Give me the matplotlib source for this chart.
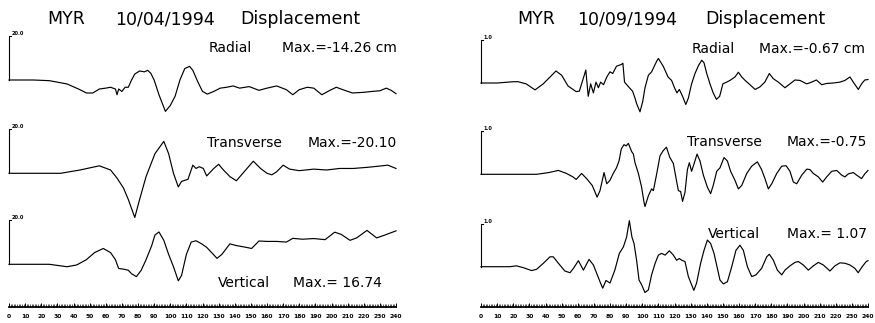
import numpy as np
import matplotlib
matplotlib.use("Agg")
import matplotlib.pyplot as plt
from matplotlib.ticker import MultipleLocator

plt.rcParams['font.family'] = ['DejaVu Sans']

# ---------------- data (time in s, displacement in cm) ----------------
LR_t = [0, 15, 25, 36, 44, 48, 52, 56, 60, 63, 66, 67, 68, 70, 72, 74, 76, 78, 81, 84,
        86, 88, 90, 93, 95, 97, 100, 103, 106, 109, 112, 114, 117, 120, 123, 127, 131, 135, 139, 143,
        149, 155, 160, 166, 172, 176, 180, 185, 189, 194, 199, 203, 207, 213, 220, 225, 230, 234, 237, 240]
LR_v = [0, 0, -0.3, -1.8, -4.4, -5.9, -5.9, -4.1, -3.7, -3.3, -4.1, -6.7, -4.1, -5.2, -3.3, -3.3, 0, 2.7, 4.1, 3.7,
        4.4, 3.0, 0, -6.7, -10.5, -14.26, -11.6, -7.4, 0, 5.2, 6.2, 4.4, -0.7, -5.2, -6.4, -5.2, -3.7, -3.3, -2.7, -3.7,
        -3.0, -4.7, -3.7, -2.7, -4.4, -6.7, -4.4, -3.3, -3.7, -6.7, -4.7, -3.3, -4.4, -5.9, -5.6, -5.2, -4.9, -3.7, -4.7, -6.2]

LT_t = [0, 32, 44, 56, 63, 67, 71, 74, 78, 81, 85, 90.5, 96, 99, 102, 105, 107, 111, 114, 116,
        118, 120.5, 122.6, 127, 130, 133, 137, 141, 145, 151.5, 156, 160, 163, 166, 170, 174, 180, 189, 197, 205,
        213.5, 222, 230, 235, 240]
LT_v = [0, 0, 1.5, 3.4, 1.5, -2.2, -6.7, -11.9, -20.1, -11.9, -1.5, 8.9, 14.5, 8.9, 0, -6.2, -3.7, -2.7, 3.7, 2.2,
        3.0, 2.2, -1.2, 2.2, 4.1, 1.5, -1.5, -3.4, 0, 5.5, 2.2, 0, -0.7, 0.7, 3.7, 1.9, 1.2, 1.9, 1.5, 2.2,
        2.2, 2.7, 3.3, 3.7, 2.2]

LV_t = [0, 25, 36, 42, 48, 53, 58.5, 63, 66, 68, 71, 74, 76, 79, 82, 85, 88.5, 90.5, 93, 96,
        99, 102, 105, 107, 110, 113, 116, 119.5, 122.6, 125.7, 129, 132, 137, 141, 145, 150.5, 155, 160, 166, 172,
        176, 182, 189, 196, 202, 206, 211.5, 215.6, 222, 228, 232, 240]
LV_v = [0, 0, -1.1, -0.3, 2.1, 5.3, 7.2, 5.3, 2.1, -1.9, -2.2, -2.7, -4.3, -5.6, -2.7, 2.1, 8.5, 13.3, 14.7, 10.9,
        4.5, -1.1, -7.5, -5.1, 4.5, 10.1, 10.7, 9.3, 7.7, 5.3, 2.7, 4.5, 9.3, 8.5, 8.0, 7.2, 10.6, 10.4, 10.4, 10.1,
        11.8, 11.4, 11.7, 11.2, 14.6, 13.6, 10.9, 12.0, 15.4, 12.0, 13.0, 15.2]

RR_t = [0, 10, 20, 23, 28, 33.5, 38.6, 46.5, 50, 54, 59, 61, 65, 66.5, 68, 69.7, 71.3, 72.8, 74.2, 76,
        78, 80, 81.7, 84, 87, 88, 89, 92, 94, 95.5, 96.5, 98.6, 100.3, 101.7, 103.8, 105.8, 109, 110, 113, 116,
        118.2, 120, 121.5, 123, 125, 127, 128.6, 130.6, 132.7, 134.8, 136.9, 138.3, 140, 142, 144, 146, 148, 150, 152.3, 154.4,
        157.5, 159.6, 161.7, 163.8, 166.8, 170, 173, 176, 178.8, 181.3, 184.4, 188.5, 191.6, 194.7, 197.8, 202, 205, 208, 211.3, 214.4,
        218.5, 222.6, 225.7, 228.8, 230.9, 234, 236, 238, 240]
RR_v = [0, 0, 0.03, 0.03, -0.02, -0.16, -0.02, 0.28, 0.18, -0.07, -0.20, -0.19, 0.30, -0.31, -0.02, -0.23, 0.02, -0.11, 0.02, -0.04,
        0.14, 0.26, 0.22, 0.39, 0.43, 0.46, 0.02, -0.11, -0.19, -0.35, -0.48, -0.67, -0.43, -0.11, 0.18, 0.26, 0.51, 0.57, 0.39, 0.14,
        0.06, -0.11, -0.23, -0.15, -0.31, -0.50, -0.35, -0.02, 0.22, 0.40, 0.53, 0.47, 0.22, -0.02, -0.23, -0.38, -0.31, -0.02, 0.02, 0.06,
        0.14, 0.25, 0.14, 0.06, -0.04, -0.15, -0.09, 0.02, 0.22, 0.10, 0.02, -0.11, -0.02, 0.07, 0.06, -0.02, 0.02, 0.07, -0.04, -0.01,
        0, 0.02, 0.06, 0.14, 0.02, -0.15, -0.02, 0.07, 0.08]

RT_t = [0, 20, 34.5, 42, 48, 53, 57, 59, 62.4, 65.5, 69, 72, 73.8, 76.3, 78, 80, 82, 84, 85.6, 87,
        88.7, 90, 91.4, 93.4, 94.5, 95.5, 97.6, 99.6, 101, 101.7, 103.8, 105.8, 106.9, 109, 111, 113, 115, 117, 119.3, 121,
        122.4, 123.8, 125, 126.5, 128, 129.2, 130.6, 132, 134, 135.8, 137.9, 140.4, 142.4, 144, 146.2, 148.2, 150.7, 152.8, 154.8, 157.5,
        159.6, 161.7, 164.8, 167.9, 171.4, 174, 176.1, 178.2, 180.3, 183.4, 186.5, 189.2, 191.6, 193.7, 195.8, 198.9, 202, 204, 206.1, 209.2,
        211.9, 214.4, 217.5, 220.6, 223.7, 225.7, 227.8, 230.9, 233, 236, 238, 240]
RT_v = [0, 0, 0, 0.04, 0.09, 0.02, -0.06, -0.12, 0.02, -0.10, -0.26, -0.53, -0.38, 0.04, -0.22, -0.14, 0.02, 0.15, 0.31, 0.59,
        0.69, 0.66, 0.72, 0.53, 0.47, 0.27, 0.02, -0.30, -0.63, -0.75, -0.50, -0.34, -0.38, 0.02, 0.43, 0.55, 0.63, 0.40, 0.25, -0.10,
        -0.38, -0.40, -0.63, -0.42, 0.11, 0.27, 0.07, 0.23, 0.47, 0.31, -0.02, -0.30, -0.45, -0.26, 0.07, 0.15, 0.39, 0.31, 0.07, -0.14,
        -0.34, -0.26, 0.02, 0.19, 0.29, 0.11, -0.10, -0.34, -0.22, 0.02, 0.19, 0.20, 0.07, -0.18, -0.22, -0.02, 0.12, 0.11, 0.02, -0.06,
        -0.18, -0.06, 0.07, 0.09, -0.02, -0.06, 0.01, 0.04, -0.02, -0.10, 0.01, 0.09]

RV_t = [0, 18, 22, 26, 31.4, 34.5, 38.7, 42.8, 44.8, 48, 52, 55.2, 57.3, 60.4, 63.5, 67, 69.7, 71.7, 73.8, 75.5,
        77.5, 80, 83, 85.8, 88.3, 90.3, 92, 93.6, 94.9, 96.5, 98, 99.6, 101.7, 103.8, 105.8, 108, 110, 112, 114.2, 116.8,
        119.3, 121.3, 123, 124.5, 126.5, 128.6, 130.6, 132, 133.7, 136.2, 138.3, 140.4, 142.4, 144.5, 146.6, 148.2, 150.3, 152.8, 155.5, 158.1,
        160.6, 162.7, 165.2, 167.9, 170.5, 174, 177.2, 178.8, 181.3, 183.8, 186.5, 188.5, 191.6, 194.7, 196.8, 199.9, 203, 206.1, 209.2, 212.3,
        216.4, 219.5, 222.6, 225.7, 228.8, 231.9, 233.9, 236.4, 238.9, 240]
RV_v = [0, 0, 0.02, -0.02, -0.09, -0.06, 0.08, 0.23, 0.23, 0.08, -0.10, -0.14, -0.04, 0.14, -0.08, 0.17, 0.04, -0.15, -0.35, -0.50,
        -0.32, -0.38, -0.08, 0.31, 0.46, 0.69, 1.07, 0.69, 0.54, 0.15, -0.31, -0.42, -0.60, -0.54, -0.19, 0.08, 0.27, 0.31, 0.27, 0.37,
        0.27, 0.15, 0.19, 0.15, 0.12, -0.23, -0.42, -0.55, -0.38, 0.08, 0.38, 0.62, 0.54, 0.31, -0.04, -0.31, -0.40, -0.35, 0, 0.38,
        0.50, 0.38, 0, -0.23, -0.19, -0.04, 0.23, 0.29, 0.15, -0.08, -0.19, -0.08, 0.02, 0.10, 0.12, 0.04, -0.08, 0.02, 0.10, 0.04,
        -0.10, 0.02, 0.09, 0.08, 0.04, -0.04, -0.14, 0, 0.12, 0.14]

titles = [["MYR", "10/04/1994", "Displacement"], ["MYR", "10/09/1994", "Displacement"]]
components = ["Radial", "Transverse", "Vertical"]
max_labels = [["Max.=-14.26 cm", "Max.=-20.10", "Max.= 16.74"],
              ["Max.=-0.67 cm", "Max.=-0.75", "Max.= 1.07"]]
scale_values = [20.0, 1.0]
tick_values = list(range(0, 241, 10))

# ---------------- layout ----------------
W, H = 875, 323
fig = plt.figure(figsize=(W / 100, H / 100), dpi=100)

def fx(px):
    return px / W

def fy(py):
    return 1 - py / H

ax_bottom_px, ax_top_px = 307, 30
panels = [
    dict(left=9, right=396, pxcm=2.2, bases=[80, 173.3, 264.3],
         traces=[(LR_t, LR_v), (LT_t, LT_v), (LV_t, LV_v)],
         title_x=[47, 115, 240],
         comp_x=[209, 207, 218], comp_base=[52, 147, 287],
         max_right=[397, 397, 382]),
    dict(left=481, right=868, pxcm=43.0, bases=[83, 174.3, 266.7],
         traces=[(RR_t, RR_v), (RT_t, RT_v), (RV_t, RV_v)],
         title_x=[517, 577, 705],
         comp_x=[692, 687, 708], comp_base=[53, 146.5, 238],
         max_right=[865, 867, 867]),
]

for p, panel in enumerate(panels):
    ax = fig.add_axes([fx(panel['left']), fy(ax_bottom_px),
                       fx(panel['right'] - panel['left']),
                       (ax_bottom_px - ax_top_px) / H])
    height_cm = (ax_bottom_px - ax_top_px) / panel['pxcm']
    ax.set_xlim(0, 240)
    ax.set_ylim(0, height_cm)
    for s in ['left', 'top', 'right']:
        ax.spines[s].set_visible(False)
    ax.spines['bottom'].set_linewidth(1.3)
    ax.set_yticks([])
    ax.set_xticks(tick_values)
    ax.xaxis.set_minor_locator(MultipleLocator(1))
    ax.tick_params(axis='x', which='major', direction='in', length=3.2, width=0.7,
                   labelsize=4.3, pad=5)
    ax.tick_params(axis='x', which='minor', direction='in', length=2.0, width=0.45)
    for lab in ax.get_xticklabels():
        lab.set_fontweight('bold')
    ax.patch.set_visible(False)

    sv = scale_values[p]
    for k, (t, v) in enumerate(panel['traces']):
        base = (ax_bottom_px - panel['bases'][k]) / panel['pxcm']
        y = base + np.asarray(v, dtype=float)
        ax.plot(t, y, color='black', lw=0.85, solid_joinstyle='round', clip_on=False)
        # scale bar
        ax.plot([0, 0, 1.2], [base, base + sv, base + sv], color='black', lw=0.8, clip_on=False)
        ax.text(1.6, base + sv, f"{sv:.1f}", fontsize=3.6, fontweight='bold',
                ha='left', va='bottom')

    # titles
    for word, xpx in zip(titles[p], panel['title_x']):
        fig.text(fx(xpx), fy(24), word, fontsize=12.5, ha='left', va='baseline')
    # component labels
    for k in range(3):
        fig.text(fx(panel['comp_x'][k]), fy(panel['comp_base'][k]), components[k],
                 fontsize=10, ha='left', va='baseline')
        fig.text(fx(panel['max_right'][k]), fy(panel['comp_base'][k]), max_labels[p][k],
                 fontsize=10, ha='right', va='baseline')

fig.savefig("out.png", dpi=100)
